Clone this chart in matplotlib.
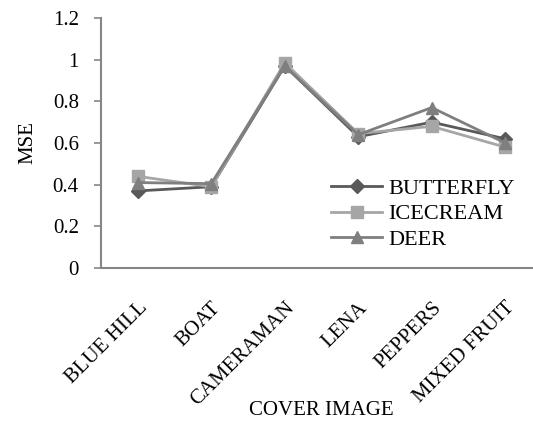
import numpy as np
import matplotlib
matplotlib.use("Agg")
import matplotlib.pyplot as plt

plt.rcParams['font.family'] = ['Liberation Serif', 'DejaVu Serif']

# data
images = ['BLUE HILL', 'BOAT', 'CAMERAMAN', 'LENA', 'PEPPERS', 'MIXED FRUIT']
butterfly = [0.37, 0.39, 0.97, 0.63, 0.70, 0.62]
icecream = [0.44, 0.39, 0.985, 0.645, 0.68, 0.58]
deer = [0.41, 0.405, 0.97, 0.64, 0.77, 0.60]
yticks = [0, 0.2, 0.4, 0.6, 0.8, 1, 1.2]
ytick_labels = ['0', '0.2', '0.4', '0.6', '0.8', '1', '1.2']

W, H = 533, 422
fig = plt.figure(figsize=(W / 100, H / 100), dpi=100)
# axes box in pixels: left 101, right 542 (cropped), top 18, bottom 268
ax = fig.add_axes([101 / W, (H - 268) / H, (542 - 101) / W, (268 - 18) / H])

x = np.arange(len(images))
ax.plot(x, butterfly, color='#595959', lw=2, marker='D', ms=7, label='BUTTERFLY')
ax.plot(x, icecream, color='#a6a6a6', lw=2, marker='s', ms=8, label='ICECREAM')
ax.plot(x, deer, color='#7f7f7f', lw=2, marker='^', ms=9, label='DEER')

ax.set_xlim(-0.5, len(images) - 0.5)
ax.set_ylim(0, 1.2)
ax.set_yticks(yticks)
ax.set_yticklabels(ytick_labels, fontsize=15)
ax.set_xticks(x)
ax.set_xticklabels(images, fontsize=15, rotation=45, ha='right', va='top',
                   rotation_mode='anchor')

for s in ['top', 'right']:
    ax.spines[s].set_visible(False)
for s in ['left', 'bottom']:
    ax.spines[s].set_color('#868686')
    ax.spines[s].set_linewidth(1.5)
ax.tick_params(axis='y', length=5, width=1.2, color='#868686', pad=11)
ax.tick_params(axis='x', length=0, pad=22)

ax.set_ylabel('MSE', fontsize=15, labelpad=11)
ax.set_xlabel('COVER IMAGE', fontsize=15, labelpad=-6)

ax.legend(loc='lower left', bbox_to_anchor=(0.487, 0.01), frameon=False,
          fontsize=16, handlelength=2.3, labelspacing=0.23, handletextpad=0.25,
          borderpad=0.2)

fig.savefig('out.png', dpi=100)
